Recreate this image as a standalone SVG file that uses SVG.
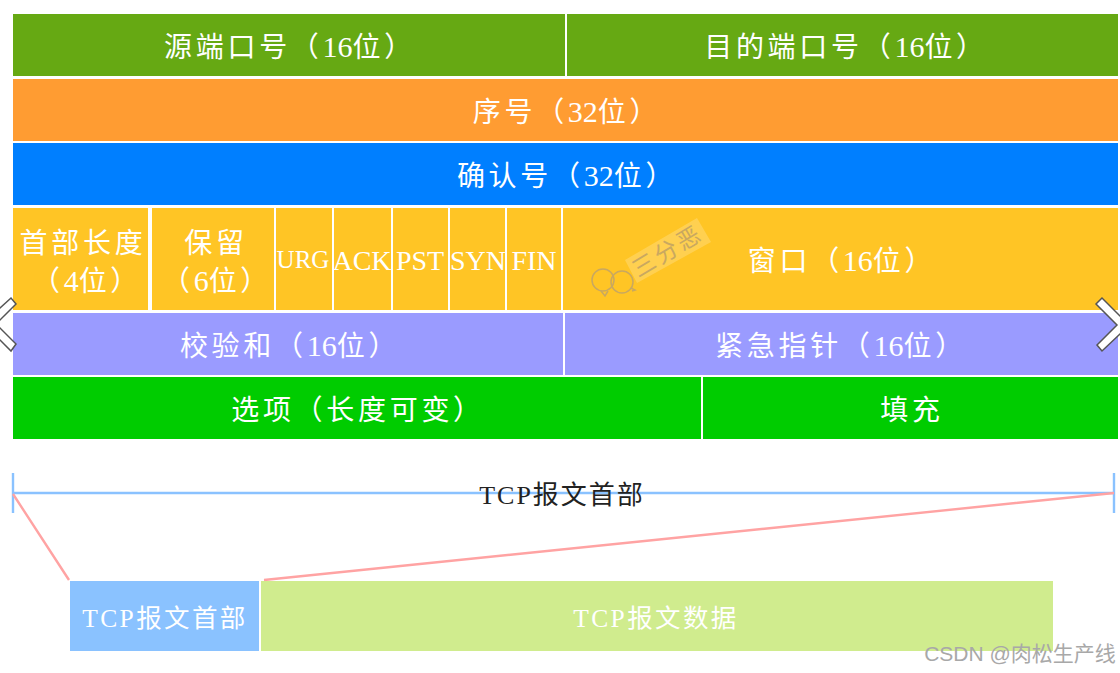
<svg xmlns="http://www.w3.org/2000/svg" width="1120" height="673" viewBox="0 0 1120 673">
<style>
text{font-family:"Liberation Serif","Noto Sans CJK SC",serif;fill:#fff;text-anchor:middle}
.t{font-size:28px;letter-spacing:3.7px}
.d{font-size:30px;letter-spacing:0}
.s{font-size:26px;letter-spacing:2px}
.f{font-size:28px;letter-spacing:0}
.k{font-size:25.5px;letter-spacing:2.4px}
.g{fill:#66a913}.o{fill:#ff9c32}.b{fill:#007fff}.y{fill:#ffc525}.p{fill:#9a9bff}.n{fill:#00cc00}
.blue{stroke:#8ac2ff;stroke-width:2.4;fill:none}
.red{stroke:#ffa3a3;stroke-width:2.4;fill:none}
.chev{fill:#fff;stroke:#555;stroke-width:1.5}
</style>
<rect width="1120" height="673" fill="#fff"/>
<g id="src-port"><rect class="g" x="13" y="14" width="552" height="62"/><text class="t" x="290" y="57">源端口号（<tspan class="d">16</tspan>位）</text></g>
<g id="dst-port"><rect class="g" x="567" y="14" width="551" height="62"/><text class="t" x="846" y="57">目的端口号（<tspan class="d">16</tspan>位）</text></g>
<g id="seq"><rect class="o" x="13" y="79" width="1105" height="62"/><text class="t" x="567" y="122">序号（<tspan class="d">32</tspan>位）</text></g>
<g id="ack-num"><rect class="b" x="13" y="143" width="1105" height="62"/><text class="t" x="567" y="186">确认号（<tspan class="d">32</tspan>位）</text></g>
<g id="header-len"><rect class="y" x="13" y="208" width="135" height="102"/><text class="t" x="83" y="253">首部长度</text><text class="t" x="87" y="291">（<tspan class="d">4</tspan>位）</text></g>
<g id="reserved"><rect class="y" x="152" y="208" width="122" height="102"/><text class="t" x="216" y="253">保留</text><text class="t" x="217" y="291">（<tspan class="d">6</tspan>位）</text></g>
<g id="urg"><rect class="y" x="276" y="208" width="56" height="102"/><text class="f" x="303" y="268" style="font-size:25px">URG</text></g>
<g id="ack"><rect class="y" x="334" y="208" width="57" height="102"/><text class="f" x="362" y="270">ACK</text></g>
<g id="pst"><rect class="y" x="393" y="208" width="55" height="102"/><text class="f" x="420" y="270">PST</text></g>
<g id="syn"><rect class="y" x="450" y="208" width="55" height="102"/><text class="f" x="478" y="270">SYN</text></g>
<g id="fin"><rect class="y" x="507" y="208" width="54" height="102"/><text class="f" x="534" y="270">FIN</text></g>
<g id="window"><rect class="y" x="563" y="208" width="555" height="102"/><text class="t" x="842" y="271">窗口（<tspan class="d">16</tspan>位）</text></g>
<g id="watermark">
<polygon points="625,260 697,218 711,242 637,283" fill="#fff" fill-opacity="0.2"/>
<text x="668" y="259" transform="rotate(-31 668 252)" style="font-size:23px;letter-spacing:3px;fill:#c9a860">三分恶</text>
<g fill="none" stroke="#c9a860" stroke-width="1.5"><circle cx="603" cy="280" r="11"/><circle cx="622" cy="282" r="11"/><path d="M601 291l4 5 3-5M631 288l4 2-3 1"/></g>
</g>
<g id="checksum"><rect class="p" x="13" y="313" width="550" height="62"/><text class="t" x="290" y="356">校验和（<tspan class="d">16</tspan>位）</text></g>
<g id="urgent"><rect class="p" x="565" y="313" width="553" height="62"/><text class="t" x="841" y="356">紧急指针（<tspan class="d">16</tspan>位）</text></g>
<g id="options"><rect class="n" x="13" y="377" width="688" height="62"/><text class="t" x="358" y="420">选项（长度可变）</text></g>
<g id="padding"><rect class="n" x="703" y="377" width="415" height="62"/><text class="t" x="912" y="420">填充</text></g>
<g id="chevrons">
<path class="chev" d="M-1 309L11 298 16 304 -1 321Z"/>
<path class="chev" d="M-1 327L16 344 11 351 -1 339Z"/>
<path class="chev" d="M1102 298L1096 304 1117 325 1097 345 1102 351 1121 333V317Z"/>
</g>
<g id="connectors">
<path class="blue" d="M13 493H1114M13 473V513M1114 473V513"/>
<path class="red" d="M13 494L69 580M264 580L1114 493"/>
</g>
<g id="span-label"><text class="s" x="562" y="504" style="fill:#222">TCP报文首部</text></g>
<g id="tcp-header"><rect x="70" y="581" width="189" height="70" fill="#8ac2ff"/><text class="k" x="165" y="627">TCP报文首部</text></g>
<g id="tcp-data"><rect x="261" y="581" width="792" height="70" fill="#d0ec8e"/><text class="k" x="656" y="627">TCP报文数据</text></g>
<g id="csdn"><text x="1020" y="661" style="font-family:'Liberation Sans','Noto Sans CJK SC',sans-serif;font-size:21px;fill:#a8a8a8">CSDN @肉松生产线</text></g>
</svg>
